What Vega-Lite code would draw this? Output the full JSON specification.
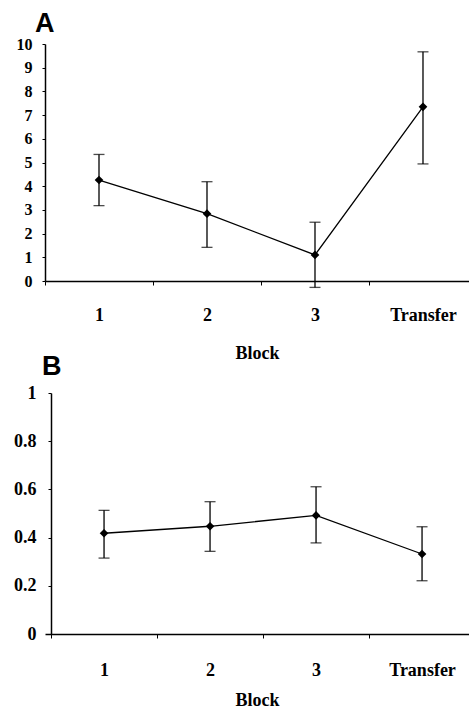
{
  "$schema": "https://vega.github.io/schema/vega-lite/v6.json",
  "background": "white",
  "padding": {"left": 13, "top": 10, "right": 0, "bottom": 0},
  "bounds": "flush",
  "spacing": 112,
  "config": {
    "view": {"stroke": null},
    "axis": {
      "labelFont": "Liberation Serif", "labelFontWeight": "bold", "labelColor": "black",
      "titleFont": "Liberation Serif", "titleFontWeight": "bold", "titleColor": "black", "titleFontSize": 18,
      "domainColor": "black", "tickColor": "black", "grid": false, "domainWidth": 1.5, "tickWidth": 1,
      "labelFlush": false, "labelOverlap": false, "labelBound": false
    }
  },
  "datasets": {
    "a": [
      {"block": "1", "order": 1, "mean": 4.26, "lo": 3.18, "hi": 5.34},
      {"block": "2", "order": 2, "mean": 2.84, "lo": 1.42, "hi": 4.19},
      {"block": "3", "order": 3, "mean": 1.10, "lo": -0.27, "hi": 2.48},
      {"block": "Transfer", "order": 4, "mean": 7.35, "lo": 4.94, "hi": 9.67}
    ],
    "b": [
      {"block": "1", "order": 1, "mean": 0.418, "lo": 0.315, "hi": 0.513},
      {"block": "2", "order": 2, "mean": 0.447, "lo": 0.343, "hi": 0.549},
      {"block": "3", "order": 3, "mean": 0.492, "lo": 0.378, "hi": 0.611},
      {"block": "Transfer", "order": 4, "mean": 0.332, "lo": 0.221, "hi": 0.445}
    ]
  },
  "vconcat": [
    {
      "width": 424, "height": 237,
      "data": {"name": "a"},
      "title": {"text": "A", "anchor": "start", "frame": "group", "dx": -10, "offset": -23, "baseline": "alphabetic", "font": "Liberation Sans", "fontSize": 27, "fontWeight": "bold", "color": "black"},
      "encoding": {
        "x": {"field": "order", "type": "quantitative", "scale": {"domain": [0.5, 4.426], "nice": false, "zero": false},
          "axis": {"values": [1, 2, 3, 4], "labelExpr": "datum.value == 4 ? 'Transfer' : datum.label", "title": "Block",
            "tickOffset": -54, "labelOffset": 54, "tickSize": 4, "labelPadding": 21,
            "labelFontSize": 18, "titlePadding": 20}}
      },
      "layer": [
        {"mark": {"type": "errorbar", "ticks": {"size": 11, "thickness": 1.3, "color": "black"}, "rule": {"strokeWidth": 1.3, "color": "black"}},
         "encoding": {"y": {"field": "lo", "type": "quantitative", "title": null, "scale": {"domain": [0, 10], "nice": false},
           "axis": {"values": [0, 1, 2, 3, 4, 5, 6, 7, 8, 9, 10], "tickSize": 3, "labelPadding": 10, "labelFontSize": 16, "title": null}},
           "y2": {"field": "hi"}}},
        {"mark": {"type": "line", "color": "black", "strokeWidth": 1.3},
         "encoding": {"y": {"field": "mean", "type": "quantitative", "title": null, "scale": {"domain": [0, 10], "nice": false},
           "axis": {"values": [0, 1, 2, 3, 4, 5, 6, 7, 8, 9, 10], "tickSize": 3, "labelPadding": 10, "labelFontSize": 16, "title": null}}}},
        {"mark": {"type": "point", "shape": "diamond", "filled": true, "size": 75, "color": "black", "opacity": 1},
         "encoding": {"y": {"field": "mean", "type": "quantitative", "title": null, "scale": {"domain": [0, 10], "nice": false},
           "axis": {"values": [0, 1, 2, 3, 4, 5, 6, 7, 8, 9, 10], "tickSize": 3, "labelPadding": 10, "labelFontSize": 16, "title": null}}}}
      ]
    },
    {
      "width": 424, "height": 241,
      "data": {"name": "b"},
      "title": {"text": "B", "anchor": "start", "frame": "group", "dx": -3, "offset": -18, "baseline": "alphabetic", "font": "Liberation Sans", "fontSize": 27, "fontWeight": "bold", "color": "black"},
      "encoding": {
        "x": {"field": "order", "type": "quantitative", "scale": {"domain": [0.443, 4.443], "nice": false, "zero": false},
          "axis": {"values": [1, 2, 3, 4], "labelExpr": "datum.value == 4 ? 'Transfer' : datum.label", "title": "Block",
            "tickOffset": -53, "labelOffset": 53, "tickSize": 4, "labelPadding": 23,
            "labelFontSize": 18, "titlePadding": 12}}
      },
      "layer": [
        {"mark": {"type": "errorbar", "ticks": {"size": 11, "thickness": 1.3, "color": "black"}, "rule": {"strokeWidth": 1.3, "color": "black"}},
         "encoding": {"y": {"field": "lo", "type": "quantitative", "title": null, "scale": {"domain": [0, 1], "nice": false},
           "axis": {"values": [0, 0.2, 0.4, 0.6, 0.8, 1], "format": "~g", "offset": -6, "tickSize": 3, "labelPadding": 12, "labelFontSize": 18, "title": null}},
           "y2": {"field": "hi"}}},
        {"mark": {"type": "line", "color": "black", "strokeWidth": 1.3},
         "encoding": {"y": {"field": "mean", "type": "quantitative", "title": null, "scale": {"domain": [0, 1], "nice": false},
           "axis": {"values": [0, 0.2, 0.4, 0.6, 0.8, 1], "format": "~g", "offset": -6, "tickSize": 3, "labelPadding": 12, "labelFontSize": 18, "title": null}}}},
        {"mark": {"type": "point", "shape": "diamond", "filled": true, "size": 75, "color": "black", "opacity": 1},
         "encoding": {"y": {"field": "mean", "type": "quantitative", "title": null, "scale": {"domain": [0, 1], "nice": false},
           "axis": {"values": [0, 0.2, 0.4, 0.6, 0.8, 1], "format": "~g", "offset": -6, "tickSize": 3, "labelPadding": 12, "labelFontSize": 18, "title": null}}}}
      ]
    }
  ]
}
